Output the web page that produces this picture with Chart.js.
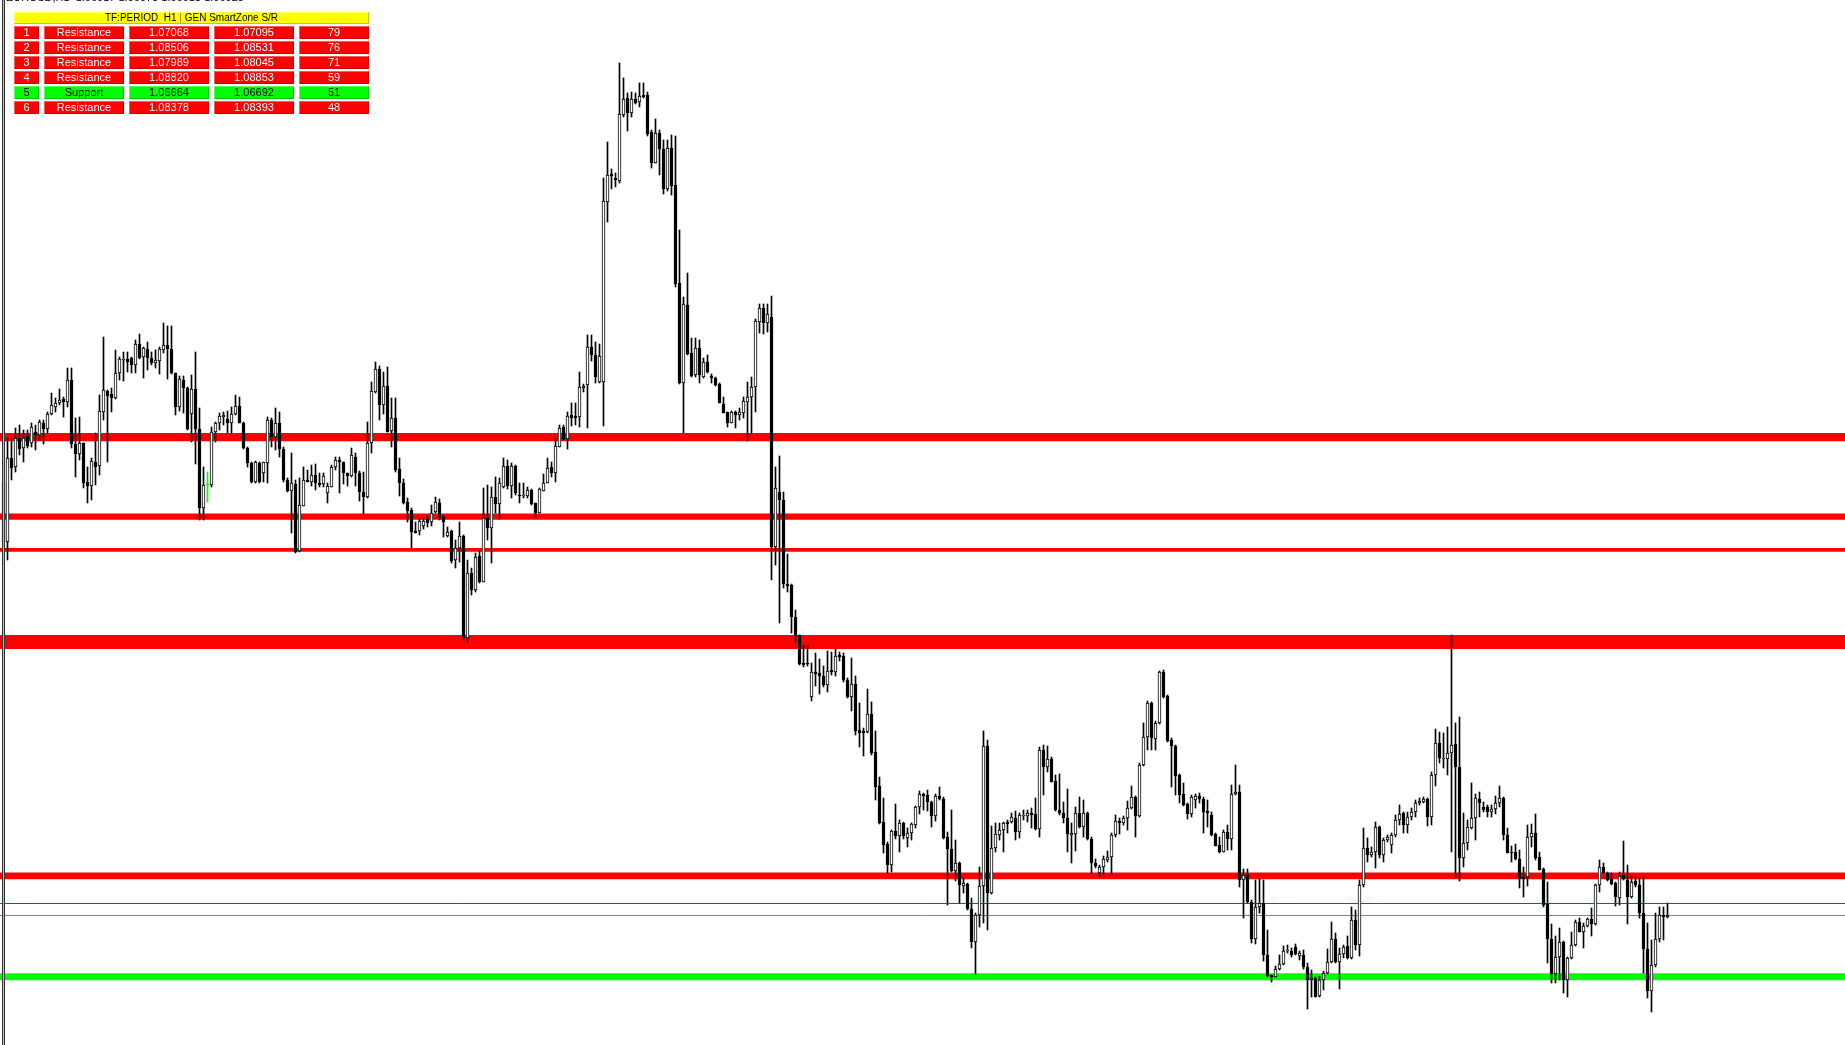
<!DOCTYPE html>
<html>
<head>
<meta charset="utf-8">
<title>EURUSD H1 SmartZone S/R</title>
<script src="https://cdn.jsdelivr.net/npm/chart.js@4.4.1/dist/chart.umd.min.js"></script>
<style>
  html, body { margin: 0; padding: 0; background: #fff; overflow: hidden; }
  #wrap { position: relative; width: 1845px; height: 1045px; overflow: hidden; }
  #priceChart { position: absolute; left: 0; top: 0; }
  .frame { position: absolute; top: 0; width: 1px; height: 1045px; }
  #topInfo { position: absolute; left: 6px; top: -9px; font: 11px "Liberation Sans", Arial, sans-serif; color: #000; white-space: pre; }
  .cell { position: absolute; height: 13px; box-sizing: border-box; font: 11px "Liberation Sans", Arial, sans-serif;
          line-height: 13px; text-align: center; white-space: pre; overflow: hidden;
          box-shadow: inset 1px 1px 0 rgba(255,255,255,0.35), inset -1px -1px 0 rgba(0,0,0,0.22); }
  .hdr { background: #ffff00; color: #000; height: 12px; line-height: 12px; font-size: 10px; }
  .hdr .bar { color: #9a7a00; }
  .res { background: #ff0000; color: #fff; }
  .sup { background: #00ff00; color: #000; }
</style>
</head>
<body>
<div id="wrap">
  <canvas id="priceChart" width="1845" height="1045"></canvas>
  <div id="topInfo"></div>
  <div id="zoneTable"></div>
  <div class="frame" style="left:2px;background:#333;"></div>
  <div class="frame" style="left:3px;background:#bbb;"></div>
  <div class="frame" style="left:4px;background:#333;"></div>
</div>
<script>
// EURUSD H1 candles (oldest -> newest)
const candleOpen = [
1.08657,1.08417,1.08753,1.08717,1.08833,1.08793,1.08841,1.08813,1.08857,1.08845,
1.08893,1.08869,1.08929,1.08957,1.08973,1.08989,1.08977,1.09065,1.08809,1.08769,
1.08813,1.08657,1.08641,1.08737,1.08721,1.08937,1.09021,1.09009,1.08993,1.09093,
1.09145,1.09149,1.09153,1.09125,1.09209,1.09157,1.09189,1.09153,1.09133,1.09141,
1.09185,1.09205,1.09189,1.09093,1.08957,1.09065,1.09033,1.08929,1.09029,1.08869,
1.08553,1.08645,1.08645,1.08857,1.08893,1.08917,1.08909,1.08893,1.08929,1.08961,
1.08893,1.08793,1.08733,1.08657,1.08733,1.08693,1.08733,1.08905,1.08837,1.08893,
1.08789,1.08665,1.08621,1.08649,1.08381,1.08561,1.08665,1.08657,1.08685,1.08653,
1.08649,1.08613,1.08637,1.08717,1.08745,1.08737,1.08693,1.08681,1.08757,1.08693,
1.08617,1.08597,1.08813,1.09017,1.09109,1.08965,1.09041,1.08861,1.08913,1.08709,
1.08653,1.08577,1.08545,1.08461,1.08461,1.08481,1.08509,1.08497,1.08537,1.08573,
1.08517,1.08441,1.08461,1.08345,1.08393,1.08441,1.08033,1.08293,1.08225,1.08361,
1.08257,1.08513,1.08473,1.08597,1.08569,1.08637,1.08721,1.08641,1.08721,1.08605,
1.08601,1.08601,1.08625,1.08573,1.08533,1.08621,1.08653,1.08717,1.08693,1.08797,
1.08877,1.08829,1.08925,1.08921,1.08917,1.09033,1.09045,1.09197,1.09165,1.09057,
1.09057,1.09777,1.09889,1.09873,1.09861,1.10125,1.10193,1.10133,1.10189,1.10177,
1.10205,1.10205,1.10057,1.09933,1.10053,1.09989,1.09829,1.09993,1.09845,1.09453,
1.09053,1.09365,1.09173,1.09085,1.09193,1.09077,1.09137,1.09081,1.09073,1.09049,
1.08969,1.08937,1.08893,1.08937,1.08925,1.08933,1.08977,1.08997,1.09037,1.09297,
1.09353,1.09293,1.09317,1.08397,1.08617,1.08585,1.08249,1.08245,1.08117,1.08045,
1.07933,1.07933,1.07797,1.07897,1.07893,1.07881,1.07845,1.07905,1.07897,1.07965,
1.07961,1.07865,1.07797,1.07849,1.07665,1.07661,1.07657,1.07729,1.07577,1.07441,
1.07297,1.07209,1.07125,1.07261,1.07241,1.07293,1.07233,1.07253,1.07285,1.07357,
1.07409,1.07405,1.07377,1.07321,1.07401,1.07389,1.07237,1.07189,1.07101,1.07133,
1.07041,1.07049,1.06949,1.06817,1.06925,1.07041,1.07601,1.07013,1.07193,1.07245,
1.07265,1.07297,1.07297,1.07313,1.07257,1.07321,1.07321,1.07333,1.07329,1.07269,
1.07585,1.07517,1.07549,1.07461,1.07345,1.07333,1.07313,1.07245,1.07249,1.07333,
1.07277,1.07333,1.07229,1.07133,1.07093,1.07117,1.07145,1.07157,1.07245,1.07301,
1.07293,1.07313,1.07353,1.07397,1.07321,1.07525,1.07637,1.07773,1.07629,1.07693,
1.07897,1.07801,1.07625,1.07601,1.07485,1.07409,1.07369,1.07329,1.07385,1.07401,
1.07389,1.07341,1.07325,1.07249,1.07205,1.07177,1.07257,1.07229,1.07409,1.07417,
1.07065,1.07085,1.06977,1.06829,1.06957,1.06973,1.06765,1.06685,1.06677,1.06709,
1.06729,1.06781,1.06781,1.06797,1.06761,1.06765,1.06717,1.06665,1.06673,1.06601,
1.06665,1.06693,1.06737,1.06829,1.06737,1.06769,1.06801,1.06753,1.06905,1.06805,
1.07045,1.07193,1.07165,1.07177,1.07277,1.07165,1.07225,1.07205,1.07245,1.07305,
1.07333,1.07285,1.07317,1.07337,1.07373,1.07377,1.07389,1.07317,1.07485,1.07613,
1.07549,1.07549,1.07573,1.07609,1.07517,1.07153,1.07213,1.07273,1.07313,1.07389,
1.07357,1.07357,1.07337,1.07349,1.07373,1.07393,1.07245,1.07177,1.07177,1.07149,
1.07077,1.07077,1.07237,1.07253,1.07157,1.07109,1.06969,1.06829,1.06689,1.06757,
1.06817,1.06665,1.06753,1.06805,1.06897,1.06857,1.06881,1.06909,1.06889,1.07045,
1.07117,1.07093,1.07069,1.07053,1.06993,1.07085,1.07065,1.06997,1.07061,1.07045,
1.06933,1.06789,1.06621,1.06725,1.06829,1.06925,1.06917
];
const candleHigh = [
1.08705,1.08833,1.08833,1.08873,1.08885,1.08865,1.08865,1.08893,1.08885,1.08905,
1.08905,1.08937,1.09013,1.08993,1.09029,1.08997,1.09113,1.09113,1.08913,1.08917,
1.08813,1.08717,1.08753,1.08853,1.09005,1.09237,1.09025,1.09033,1.09185,1.09157,
1.09177,1.09177,1.09157,1.09225,1.09249,1.09197,1.09217,1.09177,1.09185,1.09197,
1.09293,1.09281,1.09281,1.09093,1.09081,1.09081,1.09037,1.09085,1.09177,1.08953,
1.08717,1.08697,1.08877,1.08897,1.08933,1.08937,1.08941,1.08957,1.09005,1.08997,
1.08897,1.08797,1.08737,1.08741,1.08737,1.08737,1.08917,1.08913,1.08953,1.08937,
1.08797,1.08673,1.08773,1.08665,1.08673,1.08717,1.08705,1.08725,1.08729,1.08693,
1.08693,1.08653,1.08725,1.08757,1.08757,1.08737,1.08693,1.08793,1.08773,1.08701,
1.08697,1.08897,1.09057,1.09137,1.09121,1.09097,1.09117,1.08993,1.08993,1.08753,
1.08669,1.08593,1.08553,1.08497,1.08513,1.08513,1.08521,1.08565,1.08597,1.08589,
1.08525,1.08477,1.08465,1.08425,1.08497,1.08445,1.08345,1.08313,1.08373,1.08381,
1.08633,1.08645,1.08637,1.08677,1.08673,1.08753,1.08745,1.08733,1.08725,1.08653,
1.08653,1.08637,1.08629,1.08573,1.08633,1.08689,1.08753,1.08737,1.08833,1.08885,
1.08885,1.08937,1.08973,1.08973,1.09097,1.09049,1.09245,1.09245,1.09217,1.09209,
1.09873,1.10017,1.09909,1.09893,1.10333,1.10273,1.10213,1.10217,1.10213,1.10253,
1.10253,1.10217,1.10065,1.10109,1.10065,1.10025,1.10025,1.10045,1.10041,1.09665,
1.09397,1.09493,1.09233,1.09233,1.09225,1.09153,1.09165,1.09089,1.09077,1.09053,
1.08997,1.08937,1.08941,1.08941,1.08953,1.08997,1.09057,1.09077,1.09309,1.09369,
1.09369,1.09369,1.09401,1.08717,1.08761,1.08617,1.08369,1.08249,1.08145,1.08045,
1.08005,1.08005,1.07933,1.07973,1.07949,1.07921,1.07981,1.07977,1.07989,1.07977,
1.07973,1.07873,1.07953,1.07881,1.07773,1.07673,1.07829,1.07777,1.07661,1.07477,
1.07393,1.07217,1.07265,1.07369,1.07305,1.07297,1.07273,1.07293,1.07361,1.07421,
1.07413,1.07425,1.07381,1.07409,1.07437,1.07397,1.07257,1.07345,1.07225,1.07137,
1.07073,1.07053,1.06993,1.06933,1.07117,1.07661,1.07625,1.07281,1.07293,1.07293,
1.07297,1.07305,1.07333,1.07341,1.07333,1.07345,1.07345,1.07353,1.07393,1.07597,
1.07605,1.07601,1.07557,1.07485,1.07489,1.07377,1.07429,1.07293,1.07357,1.07397,
1.07385,1.07337,1.07237,1.07149,1.07125,1.07161,1.07181,1.07253,1.07325,1.07313,
1.07321,1.07381,1.07441,1.07401,1.07533,1.07693,1.07781,1.07777,1.07701,1.07901,
1.07905,1.07805,1.07633,1.07605,1.07489,1.07453,1.07373,1.07405,1.07409,1.07413,
1.07397,1.07385,1.07337,1.07253,1.07237,1.07265,1.07285,1.07445,1.07525,1.07445,
1.07109,1.07109,1.06985,1.07065,1.07069,1.07065,1.06865,1.06685,1.06721,1.06765,
1.06801,1.06805,1.06793,1.06809,1.06781,1.06785,1.06733,1.06705,1.06677,1.06681,
1.06701,1.06789,1.06897,1.06853,1.06793,1.06805,1.06841,1.06957,1.06945,1.07065,
1.07273,1.07233,1.07197,1.07297,1.07281,1.07233,1.07245,1.07253,1.07325,1.07365,
1.07337,1.07337,1.07353,1.07385,1.07393,1.07397,1.07393,1.07497,1.07669,1.07657,
1.07653,1.07677,1.08045,1.07693,1.07717,1.07333,1.07305,1.07453,1.07409,1.07417,
1.07377,1.07365,1.07365,1.07401,1.07441,1.07397,1.07273,1.07201,1.07209,1.07185,
1.07117,1.07285,1.07289,1.07329,1.07177,1.07113,1.07057,1.06889,1.06841,1.06873,
1.06821,1.06757,1.06857,1.06905,1.06913,1.06893,1.06913,1.06953,1.07049,1.07145,
1.07133,1.07097,1.07093,1.07057,1.07097,1.07221,1.07125,1.07081,1.07077,1.07073,
1.07081,1.06893,1.06825,1.06933,1.06957,1.06957,1.06973
];
const candleLow = [
1.08405,1.08345,1.08665,1.08697,1.08765,1.08737,1.08793,1.08797,1.08785,1.08825,
1.08809,1.08853,1.08925,1.08937,1.08965,1.08917,1.08957,1.08793,1.08677,1.08745,
1.08633,1.08573,1.08585,1.08645,1.08685,1.08905,1.08737,1.08937,1.08989,1.09065,
1.09061,1.09097,1.09093,1.09093,1.09149,1.09073,1.09105,1.09125,1.09113,1.09089,
1.09173,1.09069,1.09089,1.08925,1.08941,1.08933,1.08865,1.08817,1.08729,1.08505,
1.08505,1.08577,1.08637,1.08817,1.08865,1.08885,1.08853,1.08853,1.08925,1.08893,
1.08789,1.08717,1.08653,1.08653,1.08653,1.08657,1.08653,1.08797,1.08785,1.08757,
1.08657,1.08617,1.08453,1.08373,1.08377,1.08561,1.08657,1.08641,1.08625,1.08637,
1.08637,1.08573,1.08637,1.08705,1.08613,1.08649,1.08641,1.08677,1.08641,1.08581,
1.08529,1.08593,1.08773,1.09013,1.08905,1.08929,1.08857,1.08797,1.08697,1.08601,
1.08569,1.08497,1.08393,1.08453,1.08445,1.08469,1.08477,1.08481,1.08533,1.08505,
1.08437,1.08437,1.08333,1.08313,1.08337,1.08025,1.08017,1.08205,1.08217,1.08253,
1.08257,1.08425,1.08333,1.08533,1.08509,1.08633,1.08629,1.08593,1.08605,1.08573,
1.08593,1.08593,1.08565,1.08517,1.08533,1.08621,1.08653,1.08677,1.08657,1.08797,
1.08825,1.08789,1.08881,1.08885,1.08877,1.09017,1.08873,1.09141,1.09053,1.09053,
1.08881,1.09697,1.09829,1.09837,1.09853,1.10117,1.10061,1.10117,1.10169,1.10157,
1.10193,1.10041,1.09913,1.09933,1.09885,1.09809,1.09821,1.09805,1.09437,1.09049,
1.08853,1.09165,1.09077,1.09077,1.09053,1.09073,1.09093,1.09053,1.09041,1.08973,
1.08933,1.08877,1.08893,1.08873,1.08905,1.08913,1.08821,1.08849,1.08937,1.09253,
1.09249,1.09257,1.08265,1.08325,1.08093,1.08233,1.08217,1.08053,1.08017,1.07925,
1.07917,1.07921,1.07781,1.07841,1.07809,1.07837,1.07817,1.07885,1.07881,1.07941,
1.07857,1.07793,1.07741,1.07645,1.07597,1.07561,1.07653,1.07565,1.07385,1.07289,
1.07173,1.07093,1.07097,1.07229,1.07177,1.07229,1.07197,1.07225,1.07273,1.07329,
1.07345,1.07341,1.07277,1.07301,1.07385,1.07229,1.06965,1.07097,1.07061,1.06973,
1.07013,1.06945,1.06793,1.06689,1.06877,1.06893,1.06865,1.07009,1.07177,1.07225,
1.07177,1.07253,1.07293,1.07225,1.07233,1.07305,1.07297,1.07273,1.07265,1.07237,
1.07405,1.07497,1.07457,1.07341,1.07325,1.07293,1.07177,1.07133,1.07181,1.07273,
1.07237,1.07225,1.07089,1.07113,1.07077,1.07085,1.07137,1.07085,1.07237,1.07249,
1.07285,1.07265,1.07349,1.07237,1.07317,1.07521,1.07585,1.07585,1.07585,1.07689,
1.07793,1.07617,1.07437,1.07405,1.07373,1.07361,1.07309,1.07317,1.07353,1.07373,
1.07253,1.07277,1.07241,1.07201,1.07173,1.07177,1.07185,1.07185,1.07405,1.07037,
1.06913,1.06973,1.06813,1.06809,1.06933,1.06741,1.06677,1.06657,1.06677,1.06705,
1.06725,1.06773,1.06757,1.06765,1.06745,1.06709,1.06549,1.06597,1.06597,1.06597,
1.06625,1.06689,1.06733,1.06733,1.06629,1.06753,1.06749,1.06749,1.06785,1.06761,
1.07037,1.07137,1.07157,1.07113,1.07153,1.07137,1.07217,1.07173,1.07237,1.07285,
1.07253,1.07253,1.07305,1.07317,1.07365,1.07373,1.07281,1.07285,1.07441,1.07533,
1.07513,1.07485,1.07177,1.07077,1.07061,1.07117,1.07185,1.07269,1.07225,1.07317,
1.07337,1.07317,1.07317,1.07329,1.07357,1.07225,1.07173,1.07137,1.07145,1.07033,
1.06997,1.07041,1.07197,1.07145,1.07105,1.06957,1.06733,1.06653,1.06653,1.06665,
1.06613,1.06597,1.06749,1.06801,1.06857,1.06793,1.06877,1.06841,1.06885,1.07017,
1.07093,1.07061,1.07045,1.06961,1.06965,1.07065,1.06889,1.06993,1.07037,1.06913,
1.06693,1.06593,1.06537,1.06717,1.06817,1.06825,1.06913
];
const candleClose = [
1.08417,1.08753,1.08713,1.08833,1.08789,1.08833,1.08801,1.08877,1.08845,1.08897,
1.08869,1.08929,1.08965,1.08973,1.08985,1.08977,1.09065,1.08809,1.08769,1.08813,
1.08653,1.08641,1.08741,1.08717,1.08941,1.09025,1.09001,1.08993,1.09093,1.09149,
1.09149,1.09137,1.09125,1.09209,1.09153,1.09193,1.09153,1.09133,1.09145,1.09189,
1.09205,1.09189,1.09093,1.08957,1.09069,1.09033,1.08869,1.09029,1.08869,1.08553,
1.08645,1.08645,1.08857,1.08893,1.08921,1.08925,1.08893,1.08929,1.08961,1.08893,
1.08793,1.08733,1.08657,1.08737,1.08657,1.08737,1.08905,1.08837,1.08893,1.08789,
1.08665,1.08621,1.08653,1.08377,1.08565,1.08665,1.08657,1.08685,1.08653,1.08645,
1.08681,1.08641,1.08717,1.08745,1.08737,1.08693,1.08681,1.08765,1.08693,1.08617,
1.08597,1.08813,1.09021,1.09109,1.08965,1.09041,1.08857,1.08913,1.08705,1.08653,
1.08573,1.08541,1.08457,1.08453,1.08501,1.08501,1.08493,1.08533,1.08577,1.08517,
1.08497,1.08457,1.08341,1.08393,1.08441,1.08033,1.08293,1.08225,1.08357,1.08257,
1.08513,1.08473,1.08597,1.08569,1.08653,1.08721,1.08641,1.08721,1.08613,1.08601,
1.08605,1.08625,1.08569,1.08533,1.08629,1.08653,1.08713,1.08693,1.08801,1.08873,
1.08829,1.08921,1.08913,1.08913,1.09037,1.09041,1.09197,1.09165,1.09077,1.09161,
1.09781,1.09885,1.09881,1.09865,1.10129,1.10189,1.10133,1.10189,1.10173,1.10201,
1.10197,1.10049,1.09933,1.10053,1.09989,1.09829,1.09993,1.09841,1.09449,1.09053,
1.09369,1.09169,1.09081,1.09193,1.09085,1.09137,1.09097,1.09073,1.09045,1.08973,
1.08933,1.08893,1.08937,1.08925,1.08937,1.08981,1.08997,1.09037,1.09301,1.09353,
1.09293,1.09329,1.08397,1.08633,1.08585,1.08249,1.08241,1.08117,1.08045,1.07929,
1.07925,1.07929,1.07897,1.07889,1.07881,1.07845,1.07901,1.07897,1.07961,1.07957,
1.07865,1.07797,1.07849,1.07661,1.07653,1.07653,1.07729,1.07573,1.07437,1.07293,
1.07205,1.07125,1.07261,1.07241,1.07293,1.07241,1.07253,1.07289,1.07357,1.07409,
1.07401,1.07377,1.07321,1.07401,1.07389,1.07233,1.07189,1.07101,1.07133,1.07045,
1.07053,1.06949,1.06817,1.06925,1.07041,1.07601,1.07013,1.07193,1.07249,1.07265,
1.07293,1.07289,1.07317,1.07257,1.07325,1.07325,1.07333,1.07325,1.07269,1.07585,
1.07517,1.07549,1.07457,1.07345,1.07333,1.07313,1.07249,1.07253,1.07333,1.07277,
1.07333,1.07229,1.07133,1.07121,1.07117,1.07149,1.07157,1.07245,1.07301,1.07293,
1.07313,1.07353,1.07397,1.07321,1.07525,1.07637,1.07773,1.07633,1.07693,1.07897,
1.07797,1.07621,1.07601,1.07481,1.07405,1.07365,1.07329,1.07397,1.07401,1.07389,
1.07337,1.07333,1.07245,1.07201,1.07177,1.07257,1.07229,1.07409,1.07417,1.07065,
1.07085,1.06977,1.06829,1.06957,1.06973,1.06765,1.06681,1.06677,1.06709,1.06729,
1.06781,1.06785,1.06765,1.06769,1.06773,1.06717,1.06665,1.06673,1.06597,1.06665,
1.06693,1.06737,1.06829,1.06737,1.06769,1.06797,1.06753,1.06905,1.06805,1.07045,
1.07193,1.07165,1.07177,1.07277,1.07165,1.07225,1.07237,1.07245,1.07305,1.07329,
1.07285,1.07317,1.07337,1.07373,1.07381,1.07389,1.07317,1.07485,1.07613,1.07553,
1.07553,1.07573,1.07605,1.07517,1.07153,1.07213,1.07277,1.07313,1.07393,1.07373,
1.07345,1.07337,1.07349,1.07373,1.07393,1.07245,1.07173,1.07173,1.07149,1.07069,
1.07069,1.07237,1.07253,1.07153,1.07105,1.06965,1.06829,1.06689,1.06757,1.06817,
1.06665,1.06753,1.06805,1.06897,1.06857,1.06881,1.06909,1.06889,1.07045,1.07117,
1.07093,1.07065,1.07049,1.06997,1.07081,1.07069,1.06997,1.07057,1.07045,1.06933,
1.06789,1.06621,1.06725,1.06829,1.06925,1.06917,1.06925
];

// SmartZone table rows
const zoneRank = [1, 2, 3, 4, 5, 6];
const zoneType = ['Resistance', 'Resistance', 'Resistance', 'Resistance', 'Support', 'Resistance'];
const zoneLow = [1.07068, 1.08506, 1.07989, 1.08820, 1.06664, 1.08378];
const zoneHigh = [1.07095, 1.08531, 1.08045, 1.08853, 1.06692, 1.08393];
const zoneScore = [79, 76, 71, 59, 51, 48];

const bidPrice = 1.06925;
const askPrice = 1.06973;
const symbolInfo = 'EURUSD,H1  1.06917 1.06973 1.06913 1.06925';
const tableTitle = 'TF:PERIOD  H1 | GEN SmartZone S/R';

// ---- table (plain html text) ----
function buildTable() {
    const box = document.getElementById('zoneTable');
    const cols = [ {x: 14, w: 25}, {x: 44, w: 80}, {x: 129, w: 80}, {x: 214, w: 80}, {x: 299, w: 70} ];
    const parts = tableTitle.split('|');
    let html = `<div class="cell hdr" style="left:14px;top:12px;width:355px;">${parts[0]}<span class="bar">|</span>${parts[1]}</div>`;
    zoneRank.forEach((r, k) => {
        const cls = zoneType[k] === 'Support' ? 'sup' : 'res';
        const vals = [r, zoneType[k], zoneLow[k].toFixed(5), zoneHigh[k].toFixed(5), zoneScore[k]];
        const top = 26 + k * 15;
        vals.forEach((v, c) => {
            html += `<div class="cell ${cls}" style="left:${cols[c].x}px;top:${top}px;width:${cols[c].w}px;">${v}</div>`;
        });
    });
    box.innerHTML = html;
    document.getElementById('topInfo').innerText = symbolInfo;
}

// zones + bid/ask lines behind the candles
const zonePlugin = {
    id: 'smartZones',
    beforeDatasetsDraw(chart) {
        const { ctx, chartArea, scales: { y } } = chart;
        ctx.save();
        zoneLow.forEach((lo, k) => {
            const top = y.getPixelForValue(zoneHigh[k]);
            const bot = y.getPixelForValue(lo);
            ctx.fillStyle = zoneType[k] === 'Support' ? '#00ff00' : '#ff0000';
            ctx.fillRect(chartArea.left, top, chartArea.right - chartArea.left, bot - top);
        });
        const line = (price, color) => {
            const py = Math.round(y.getPixelForValue(price)) + 0.5;
            ctx.strokeStyle = color; ctx.lineWidth = 1;
            ctx.beginPath(); ctx.moveTo(chartArea.left, py); ctx.lineTo(chartArea.right, py); ctx.stroke();
        };
        line(askPrice, '#ff0000');
        line(bidPrice, '#778899');
        ctx.restore();
    }
};

function candleFill(i) {
    if (candleOpen[i] === candleClose[i]) return '#00ff00';
    return candleClose[i] > candleOpen[i] ? '#ffffff' : '#000000';
}
function candleEdge(i) {
    return candleOpen[i] === candleClose[i] ? '#00ff00' : '#000000';
}

const wickData = candleOpen.map((o, i) => ({ x: i, y: [candleLow[i], candleHigh[i]] }));
const bodyData = candleOpen.map((o, i) => ({ x: i, y: [o, candleClose[i]] }));

buildTable();

const ctx = document.getElementById('priceChart').getContext('2d');
new Chart(ctx, {
    type: 'bar',
    data: {
        datasets: [
            {
                label: 'wick',
                data: wickData,
                barThickness: 1,
                backgroundColor: c => candleEdge(c.dataIndex),
                borderWidth: 0,
                grouped: false,
                order: 2
            },
            {
                label: 'body',
                data: bodyData,
                barThickness: 3,
                minBarLength: 1,
                backgroundColor: c => candleFill(c.dataIndex),
                borderColor: c => candleEdge(c.dataIndex),
                borderWidth: 1,
                borderSkipped: false,
                grouped: false,
                order: 1
            }
        ]
    },
    options: {
        responsive: false,
        maintainAspectRatio: false,
        animation: false,
        events: [],
        layout: { padding: 0 },
        plugins: { legend: { display: false }, tooltip: { enabled: false } },
        scales: {
            // 4 px per bar, first bar at x = 3.5
            x: { type: 'linear', min: -0.875, max: 460.375, offset: false, display: false },
            y: { min: 1.06405, max: 1.10585, display: false }
        }
    },
    plugins: [zonePlugin]
});
</script>
</body>
</html>
